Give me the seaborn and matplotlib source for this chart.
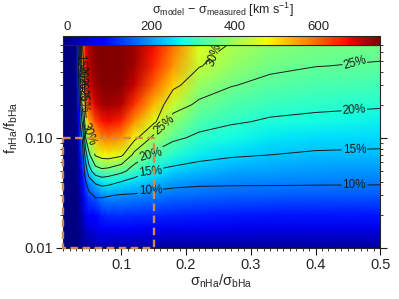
import numpy as np
import seaborn as sns
import matplotlib.pyplot as plt
from matplotlib.ticker import FixedLocator, MultipleLocator, NullFormatter

sns.set_theme(style='ticks')
plt.rcParams['font.family'] = ['Liberation Sans', 'DejaVu Sans']
plt.rcParams['mathtext.default'] = 'regular'

# grid of the model: sigma ratio (x) and flux ratio (y)
sig_ratio = [0.01, 0.03, 0.035, 0.04, 0.045, 0.05, 0.06, 0.07, 0.08, 0.10,
             0.12, 0.15, 0.18, 0.22, 0.27, 0.33, 0.40, 0.50]
flux_ratio = [0.01, 0.015, 0.02, 0.03, 0.04, 0.05, 0.07, 0.10, 0.14, 0.20,
              0.30, 0.45, 0.70]

# sigma_model - sigma_measured [km/s], one list per sigma ratio (bottom -> top)
dsig_cols = [
    [-10] * 13,
    [-8] * 13,
    [-5, 0, 5, 10, 15, 20, 35, 55, 80, 110, 140, 150, 150],
    [0, 15, 30, 50, 70, 95, 140, 200, 290, 400, 500, 540, 560],
    [5, 35, 65, 105, 140, 180, 250, 340, 440, 550, 640, 670, 680],
    [10, 50, 85, 140, 190, 245, 335, 440, 540, 630, 690, 710, 715],
    [15, 60, 85, 160, 235, 310, 430, 530, 620, 690, 730, 740, 740],
    [18, 70, 110, 190, 258, 338, 470, 570, 660, 720, 742, 746, 746],
    [18, 72, 120, 198, 266, 345, 480, 580, 670, 725, 745, 748, 748],
    [15, 72, 122, 195, 262, 335, 460, 560, 650, 715, 740, 745, 745],
    [14, 70, 120, 190, 250, 310, 400, 480, 560, 640, 700, 725, 730],
    [12, 66, 115, 180, 225, 270, 330, 400, 460, 530, 600, 650, 670],
    [10, 64, 110, 170, 205, 240, 290, 340, 385, 440, 510, 560, 590],
    [10, 62, 106, 162, 192, 225, 262, 295, 322, 360, 395, 435, 460],
    [10, 62, 104, 158, 186, 212, 245, 272, 298, 325, 358, 390, 415],
    [10, 60, 102, 155, 183, 205, 232, 258, 282, 305, 335, 360, 382],
    [10, 60, 100, 152, 180, 200, 226, 250, 272, 295, 322, 348, 365],
    [10, 60, 100, 150, 178, 197, 222, 245, 265, 287, 315, 340, 358],
]

# relative difference [%], same layout
pct_cols = [
    [1] * 13,
    [2, 2, 2, 2, 2, 2, 2, 2, 2, 2, 3, 3, 3],
    [2, 2, 2, 2.5, 3, 3.5, 5, 7, 8.5, 9.5, 11, 12, 13.3],
    [2, 2.5, 3, 4, 5, 6, 8, 10.5, 16, 22, 26, 28, 30],
    [2, 3, 4, 6, 10, 12.5, 18, 25, 29, 31, 32.5, 33, 33],
    [3, 4, 5, 9, 13, 18, 24, 30, 32.5, 33.5, 34, 34, 34],
    [3.5, 5, 7, 10.5, 16, 23, 30.5, 33, 34, 34.5, 34.5, 34.5, 34.5],
    [3.5, 5, 7, 10.5, 17.5, 24, 32, 34.5, 34.8, 34.8, 34.8, 34.8, 34.8],
    [3.5, 5, 7, 10.2, 17, 23.5, 32.5, 34.5, 34.8, 34.8, 34.8, 34.8, 34.8],
    [3, 4.5, 6, 9.7, 15, 21.5, 31, 34.5, 34.8, 34.8, 34.8, 34.8, 34.8],
    [3, 4.5, 6, 9.6, 13.6, 17.7, 23.8, 31.5, 34, 34.8, 34.8, 34.8, 34.8],
    [3, 4.5, 6, 8.9, 12.2, 14.8, 19.3, 23.8, 31, 33.5, 34.5, 34.5, 34.5],
    [3, 4.5, 6, 8.4, 11.6, 14.1, 17.5, 20.8, 23.5, 26.8, 31.1, 33, 34],
    [3, 4.5, 6, 8.2, 11.1, 13.3, 16.4, 19.2, 21.7, 24.3, 27.3, 30.3, 33],
    [3, 4.5, 6, 8.2, 10.9, 12.8, 15.5, 18.1, 20.5, 22.7, 25.2, 27.5, 29.6],
    [3, 4.5, 6, 8.3, 10.8, 12.5, 15, 17.3, 19.5, 21.6, 23.8, 26.1, 28.5],
    [3, 4.5, 6, 8.5, 10.6, 12.2, 14.5, 16.8, 19, 21, 23, 25.1, 27.2],
    [3, 4.5, 6, 8.6, 10.5, 12, 14.3, 16.5, 18.5, 20.5, 22.6, 24.6, 26.7],
]

pct_levels = [10, 15, 20, 25, 30]
cbar_ticks = [0, 200, 400, 600]
box_x = [0.01, 0.15]
box_y = [0.01, 0.10]

dsig = np.array(dsig_cols).T
pct = np.array(pct_cols).T

fig = plt.figure(figsize=(3.99, 2.99), dpi=100)
ax = fig.add_axes([0.158, 0.171, 0.795, 0.679])
cax = fig.add_axes([0.158, 0.850, 0.795, 0.029])

mesh = ax.pcolormesh(sig_ratio, flux_ratio, dsig, shading='gouraud',
                     cmap='jet', vmin=-10, vmax=748)
cs = ax.contour(sig_ratio, flux_ratio, pct, levels=pct_levels,
                colors='k', linewidths=0.7)
label_pos = [(0.46, 0.037), (0.46, 0.078), (0.46, 0.175), (0.46, 0.48),
             (0.145, 0.033), (0.145, 0.05), (0.145, 0.071), (0.165, 0.137),
             (0.24, 0.57), (0.051, 0.11),
             (0.036, 0.45), (0.037, 0.36), (0.039, 0.28), (0.042, 0.22)]
ax.clabel(cs, fmt='%d%%', fontsize=8.5, inline=True, inline_spacing=1,
          manual=label_pos)

# dashed box
bx = [box_x[0], box_x[1], box_x[1], box_x[0], box_x[0]]
by = [box_y[1], box_y[1], box_y[0], box_y[0], box_y[1]]
ax.plot(bx, by, color='#cf8a4c', lw=1.7, dashes=(3.2, 1.9), clip_on=False,
        zorder=5)

ax.set_yscale('log')
ax.set_xlim(0.01, 0.5)
ax.set_ylim(0.01, 0.7)
ax.xaxis.set_major_locator(FixedLocator([0.1, 0.2, 0.3, 0.4, 0.5]))
ax.xaxis.set_minor_locator(MultipleLocator(0.01))
ax.set_xticklabels(['0.1', '0.2', '0.3', '0.4', '0.5'])
ax.yaxis.set_major_locator(FixedLocator([0.01, 0.1]))
ax.set_yticklabels(['0.01', '0.10'])
ax.yaxis.set_minor_formatter(NullFormatter())
ax.tick_params(which='both', labelsize=10.5, direction='out', right=True,
               color='k', pad=2)
ax.tick_params(which='major', length=5, width=0.8)
ax.tick_params(which='minor', length=2.5, width=0.6)
for s in ax.spines.values():
    s.set_linewidth(0.8)

ax.set_xlabel('$σ_{nHa}/σ_{bHa}$', fontsize=10.5, labelpad=1)
ax.set_ylabel('$f_{nHa}/f_{bHa}$', fontsize=10.5)
ax.yaxis.set_label_coords(-0.135, 0.59)

cb = fig.colorbar(mesh, cax=cax, orientation='horizontal')
cb.set_ticks(cbar_ticks)
cax.xaxis.set_ticks_position('top')
cax.tick_params(labelsize=9.5, direction='in', length=3, width=0.6,
                top=True, bottom=True, pad=2)
cb.outline.set_linewidth(0.8)
fig.text(0.559, 0.968, '$σ_{model}$ − $σ_{measured}$ [km s$^{-1}$]',
         fontsize=9, ha='center', va='center')

fig.savefig('out.png', dpi=100)
